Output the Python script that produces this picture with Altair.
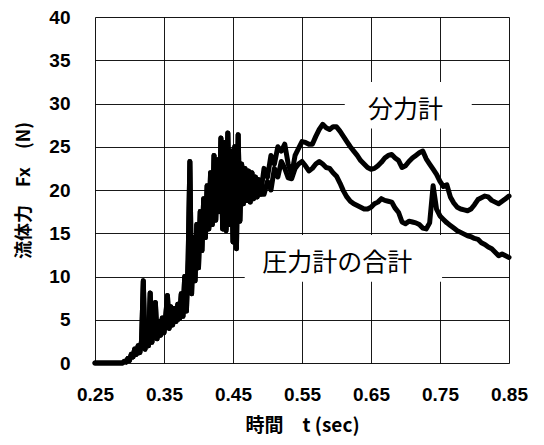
import altair as alt
import numpy as np
import pandas as pd

# ---- data ----
# start of record (flat at zero)
t_start = [0.25]
f_start = [0.0]

# shared noisy rise: both gauges overlap here (t = 0.29 ... 0.49, step 0.0025)
t_early = [round(v, 4) for v in np.arange(0.29, 0.49001, 0.0025)]
f_early = [0, 0.2, 0.1, 0.5, 0.3, 1.0, 0.7, 1.6, 1.0, 2.0,
           1.2, 2.6, 9.5, 1.6, 3.4, 2.0, 8.1, 2.4, 4.2, 7.0,
           2.8, 4.8, 3.2, 5.2, 3.5, 5.4, 7.8, 4.0, 6.5, 4.4,
           6.3, 4.8, 6.8, 5.1, 8.0, 5.4, 10.0, 6.0, 12.0, 23.3,
           8.0, 14.5, 9.5, 16.0, 11.0, 17.5, 13.0, 19.0, 14.5, 20.5,
           15.5, 22.0, 16.0, 24.0, 16.5, 23.5, 17.5, 26.0, 15.5, 25.5,
           15.3, 26.6, 16.0, 24.5, 14.0, 25.0, 13.2, 26.4, 16.4, 23.0,
           18.4, 22.5, 18.8, 22.2, 18.6, 22.0, 19.0, 21.5, 19.2, 21.2,
           19.5]

# separate part (t = 0.495 ... 0.85, step 0.005)
t_late = [round(v, 4) for v in np.arange(0.495, 0.85001, 0.005)]
f_bunryoku = [22.5, 21.5, 24.0, 23.0, 25.0, 24.5, 25.3, 23.0, 21.8, 24.0,
              24.8, 25.6, 25.5, 25.3, 25.3, 26.2, 27.0, 27.6, 27.2, 27.0,
              27.3, 27.3, 26.8, 26.2, 25.6, 25.0, 24.5, 24.0, 23.4, 23.0,
              22.6, 22.4, 22.5, 22.8, 23.2, 23.7, 24.0, 24.1, 23.7, 23.4,
              22.6, 22.8, 23.3, 23.7, 24.0, 24.3, 24.5, 23.6, 23.0, 22.4,
              21.8, 21.0, 20.4, 20.6, 19.2, 18.5, 18.0, 17.8, 17.7, 17.6,
              17.8, 18.3, 18.9, 19.1, 19.3, 19.2, 18.8, 18.6, 18.4, 18.7,
              19.0, 19.3]
f_atsuryoku = [19.5, 21.0, 20.0, 22.5, 21.5, 23.3, 22.5, 21.4, 21.3, 22.5,
               23.0, 23.3, 22.8, 22.2, 22.5, 23.0, 23.3, 23.0, 22.6, 22.5,
               22.0, 21.6, 20.8, 19.9, 19.2, 18.7, 18.4, 18.2, 18.0, 17.8,
               17.8, 18.0, 18.4, 18.6, 19.0, 18.8, 18.7, 18.6, 17.9, 17.4,
               16.3, 16.1, 16.4, 16.3, 16.2, 16.0, 15.6, 15.5, 16.2, 20.5,
               17.8, 17.0, 16.6, 16.2, 15.9, 15.6, 15.3, 15.1, 14.9, 14.7,
               14.6, 14.4, 14.3, 13.9, 13.7, 13.4, 13.2, 12.8, 12.4, 12.6,
               12.4, 12.2]

series_names = ["分力計", "圧力計の合計"]
x_ticks = [0.25, 0.35, 0.45, 0.55, 0.65, 0.75, 0.85]
y_ticks = [0, 5, 10, 15, 20, 25, 30, 35, 40]

# annotation labels
label_text = ["分力計", "圧力計の合計"]
label_t = [0.700, 0.601]
label_f = [29.3, 11.6]
box_t0 = [0.612, 0.467]
box_t1 = [0.796, 0.753]
box_f0 = [27.1, 9.4]
box_f1 = [32.5, 14.8]

# ---- build table ----
t_all = t_start + t_early + t_late
rows = []
for name, late in zip(series_names, [f_bunryoku, f_atsuryoku]):
    vals = f_start + f_early + late
    for t, f in zip(t_all, vals):
        rows.append({"t": t, "F": f, "series": name})
df = pd.DataFrame(rows)

labels_df = pd.DataFrame({"text": label_text, "t": label_t, "F": label_f})
boxes_df = pd.DataFrame({"t0": box_t0, "t1": box_t1, "f0": box_f0, "f1": box_f1})

LAT = "Liberation Sans, Arial, sans-serif"
JP = "Noto Sans CJK JP, sans-serif"

xscale = alt.Scale(domain=[0.25, 0.85], nice=False, zero=False)
yscale = alt.Scale(domain=[0, 40], nice=False)

x_axis = alt.Axis(values=x_ticks, format=".2f", title="時間\u3000t (sec)",
                  labelFont=LAT, labelFontSize=19, labelFontWeight="bold",
                  labelPadding=22, labelOverlap=False, labelFlush=False,
                  ticks=False, tickSize=0,
                  domain=False, grid=True, gridColor="black", gridWidth=1,
                  gridOpacity=0.9, titleFont=JP, titleFontSize=19,
                  titleFontWeight="bold", titlePadding=12, labelColor="black",
                  titleColor="black")
y_axis = alt.Axis(values=y_ticks, title="流体力\u3000Fx\u3000(N)",
                  labelFont=LAT, labelFontSize=19, labelFontWeight="bold",
                  labelPadding=25, labelFlush=False, ticks=False, tickSize=0,
                  domain=False,
                  grid=True, gridColor="black", gridWidth=1, gridOpacity=0.9,
                  titleFont=JP, titleFontSize=18, titleFontWeight="bold",
                  titlePadding=15, labelColor="black", titleColor="black")

boxes = alt.Chart(boxes_df).mark_rect(color="white").encode(
    x=alt.X("t0:Q", scale=xscale, axis=x_axis),
    x2="t1:Q",
    y=alt.Y("f0:Q", scale=yscale, axis=y_axis),
    y2="f1:Q",
)

lines = alt.Chart(df).mark_line(strokeWidth=5, strokeJoin="round",
                                strokeCap="round").encode(
    x=alt.X("t:Q", scale=xscale, axis=x_axis),
    y=alt.Y("F:Q", scale=yscale, axis=y_axis),
    color=alt.Color("series:N", scale=alt.Scale(domain=series_names,
                                                 range=["black", "black"]),
                    legend=None),
)

texts = alt.Chart(labels_df).mark_text(font=JP, fontSize=25, color="black",
                                       align="center", baseline="middle").encode(
    x=alt.X("t:Q", scale=xscale),
    y=alt.Y("F:Q", scale=yscale),
    text="text:N",
)

chart = alt.layer(boxes, lines, texts).properties(
    width=414, height=346,
    autosize=alt.AutoSizeParams(type="none"),
    padding={"left": 87, "top": 9, "right": 25, "bottom": 74},
).configure_view(stroke="black", strokeWidth=2).configure(background="white")

chart.save("out.html", embed_options={"renderer": "svg", "actions": False})
